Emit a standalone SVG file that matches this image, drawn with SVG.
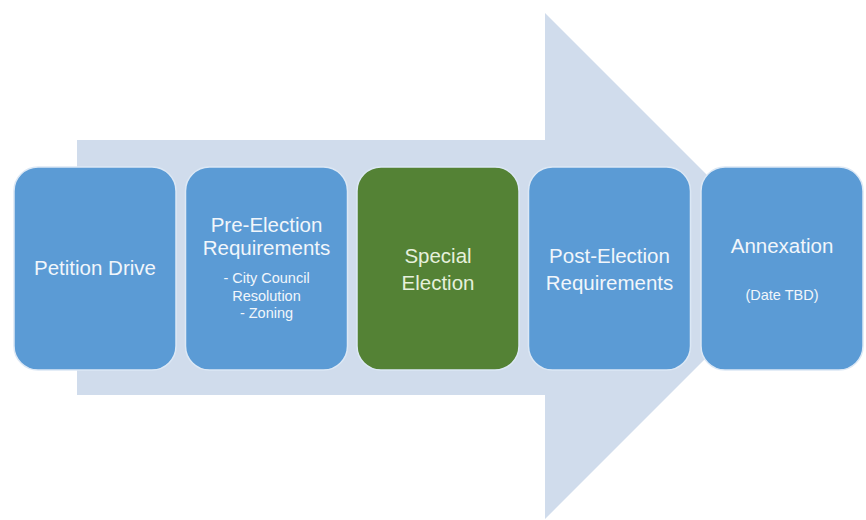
<svg xmlns="http://www.w3.org/2000/svg" width="866" height="520" viewBox="0 0 866 520">
  <style>
    .box { fill: #5B9BD5; stroke: #DCE8F5; stroke-width: 1.5; }
    .green { fill: #548235; stroke: #DCE8F5; stroke-width: 1.5; }
    .t { font-family: "Liberation Sans", Arial, sans-serif; text-anchor: middle; fill: #F1F6FB; }
    .tg { fill: #E6F0DC; }
    .big { font-size: 20.5px; }
    .small { font-size: 14.5px; }
  </style>
  <rect width="866" height="520" fill="#FFFFFF"/>
  <g id="arrow">
    <polygon points="77,140 545,140 545,13 798,266 545,519 545,395 77,395" fill="#D0DCEC"/>
  </g>
  <g id="connectors"></g>
  <g id="node-petition">
    <rect class="box" x="14" y="167" width="162" height="203" rx="24" ry="24"/>
    <text class="t big" x="95" y="275" font-size="21.5px">Petition Drive</text>
  </g>
  <g id="node-pre-election">
    <rect class="box" x="185.5" y="167" width="162" height="203" rx="24" ry="24"/>
    <text class="t big" x="266.5" y="232">Pre-Election</text>
    <text class="t big" x="266.5" y="255">Requirements</text>
    <text class="t small" x="266.5" y="283">- City Council</text>
    <text class="t small" x="266.5" y="301">Resolution</text>
    <text class="t small" x="266.5" y="318">- Zoning</text>
  </g>
  <g id="node-special">
    <rect class="green" x="357" y="167" width="162" height="203" rx="24" ry="24"/>
    <text class="t tg big" x="438" y="263">Special</text>
    <text class="t tg big" x="438" y="290">Election</text>
  </g>
  <g id="node-post-election">
    <rect class="box" x="528.5" y="167" width="162" height="203" rx="24" ry="24"/>
    <text class="t big" x="609.5" y="263">Post-Election</text>
    <text class="t big" x="609.5" y="290">Requirements</text>
  </g>
  <g id="node-annexation">
    <rect class="box" x="701" y="167" width="162" height="203" rx="24" ry="24"/>
    <text class="t big" x="782" y="253">Annexation</text>
    <text class="t small" x="782" y="300">(Date TBD)</text>
  </g>
</svg>
